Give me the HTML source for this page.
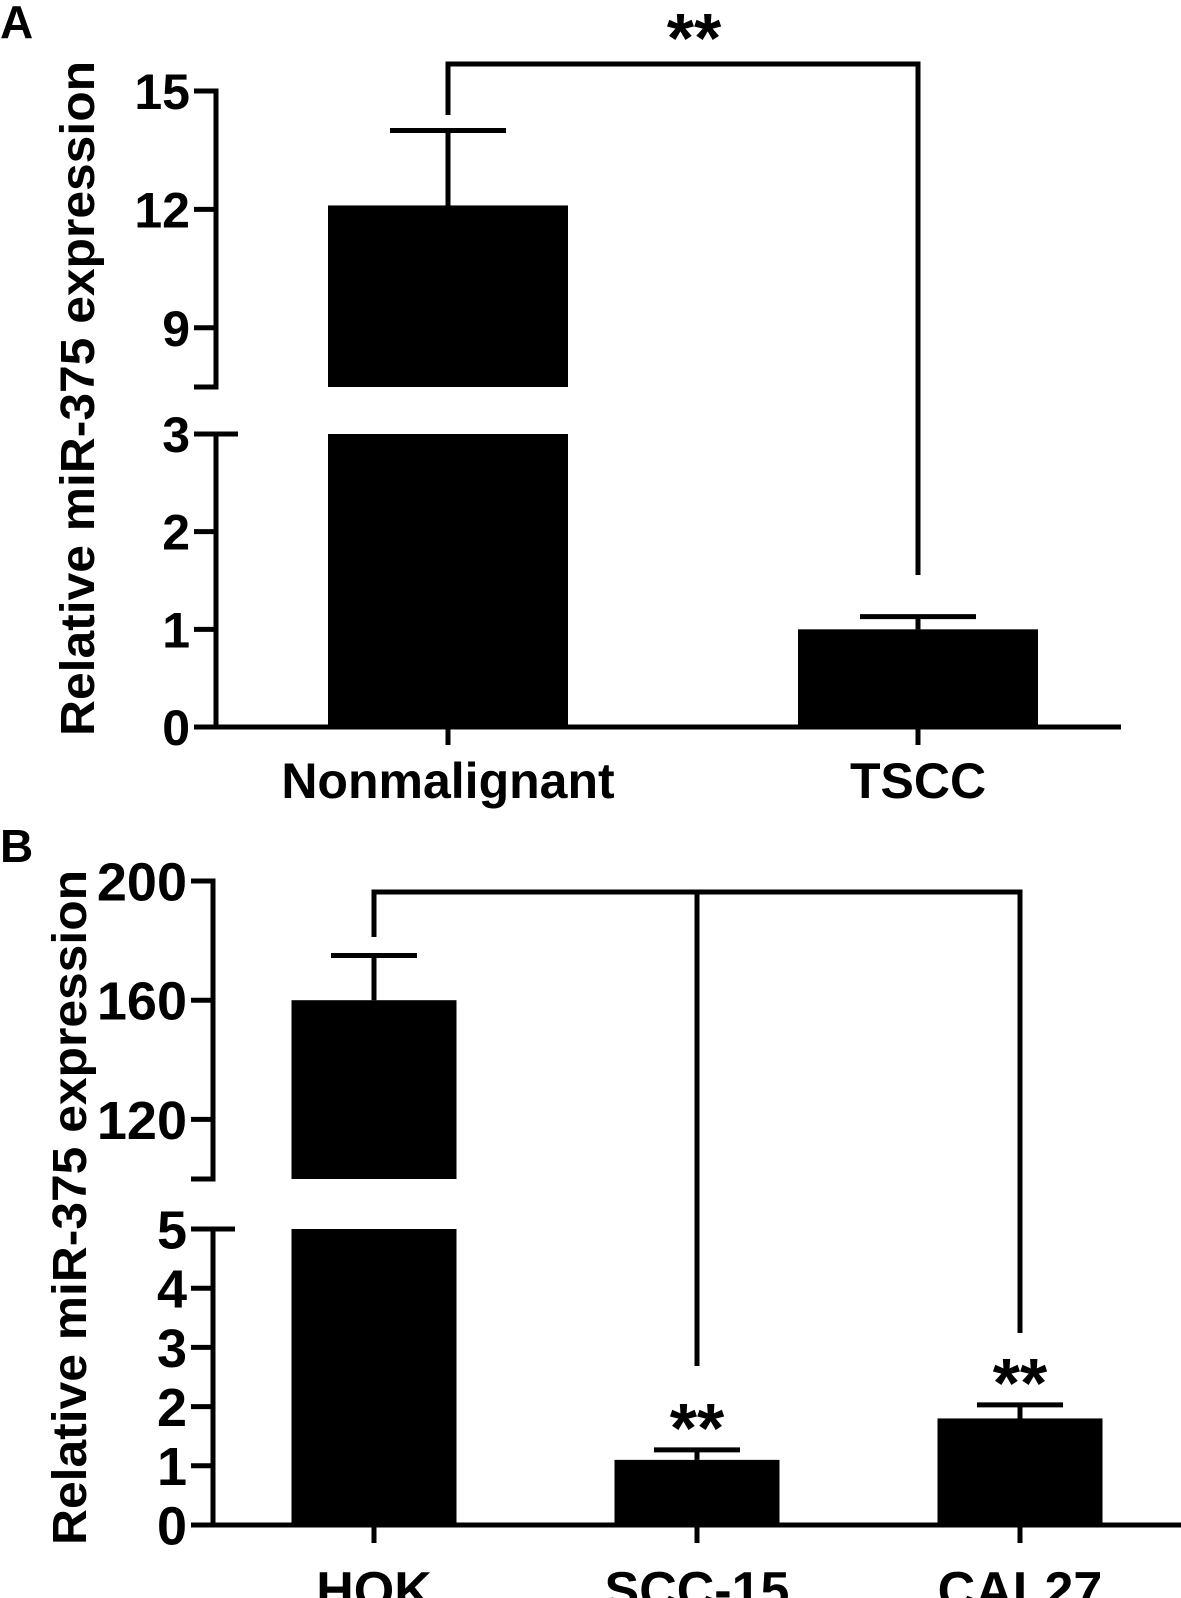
<!DOCTYPE html>
<html><head><meta charset="utf-8"><style>
html,body{margin:0;padding:0;background:#fff}
svg{display:block}
text{font-family:"Liberation Sans",Arial,sans-serif;font-weight:bold;fill:#000}
</style></head><body>
<svg id="fig" width="1181" height="1598" viewBox="0 0 1181 1598" xmlns="http://www.w3.org/2000/svg">
<text x="0" y="38" font-size="46">A</text>
<text x="0" y="862" font-size="46">B</text>
<text transform="translate(94,736) rotate(-90)" font-size="48" textLength="675" lengthAdjust="spacingAndGlyphs">Relative miR-375 expression</text>
<text transform="translate(86,1545) rotate(-90)" font-size="48" textLength="675" lengthAdjust="spacingAndGlyphs">Relative miR-375 expression</text>
<g id="ga"></g>
<g id="gb"></g>
</svg>
<script>
// Panel A data
const aCats = ["Nonmalignant","TSCC"];
const aVals = [12.1, 1.0];
const aErr = [1.9, 0.13];
const aTicksUpper = [9,12,15];
const aTicksLower = [0,1,2,3];
// Panel B data
const bCats = ["HOK","SCC-15","CAL27"];
const bVals = [160, 1.1, 1.8];
const bErr = [15, 0.17, 0.23];
const bTicksUpper = [120,160,200];
const bTicksLower = [0,1,2,3,4,5];
const bStars = ["", "**", "**"];

const NS="http://www.w3.org/2000/svg";
function mk(parent,tag,attrs){const e=document.createElementNS(NS,tag);for(const k in attrs)e.setAttribute(k,attrs[k]);parent.appendChild(e);return e;}

function drawPanel(g,cfg){
  const lw=5;
  const yL=v=>cfg.y0+(cfg.y3-cfg.y0)*(v-0)/(cfg.lowMax);
  const yU=v=>cfg.ub+(cfg.ut-cfg.ub)*(v-cfg.upMin)/(cfg.upMax-cfg.upMin);
  const yv=v=> v<=cfg.lowMax? yL(v) : (v<cfg.upMin? cfg.ub : yU(v));
  const xc=i=>cfg.xs[i];
  cfg.vals.forEach((v,i)=>{
    const x=xc(i)-cfg.bw/2;
    if(v<=cfg.lowMax){
      const b=mk(g,'rect',{x:x,y:yL(v),width:cfg.bw,height:cfg.y0-yL(v),fill:'#000'});
      
      
    } else {
      const b=mk(g,'rect',{x:x,y:yL(cfg.lowMax),width:cfg.bw,height:cfg.y0-yL(cfg.lowMax),fill:'#000'});
      
      
      const b2=mk(g,'rect',{x:x,y:yU(v),width:cfg.bw,height:cfg.ub-yU(v),fill:'#000'});
      
      
    }
    const top=yv(v+cfg.err[i]);
    const e=mk(g,'path',{d:`M${xc(i)} ${yv(v)}V${top}M${xc(i)-cfg.cap} ${top}H${xc(i)+cfg.cap}`,stroke:'#000','stroke-width':lw,fill:'none'});
    
    
    const t=mk(g,'text',{x:xc(i),y:cfg.labY,'font-size':cfg.labFs,'text-anchor':'middle'});
    t.textContent=cfg.cats[i];
    
    
    const tk=mk(g,'line',{x1:xc(i),x2:xc(i),y1:cfg.y0,y2:cfg.y0+18,stroke:'#000','stroke-width':lw});
    
    
  });
  const ax=cfg.ax;
  const ya=mk(g,'path',{d:`M${ax-22} ${cfg.ut}H${ax}V${cfg.ub}H${ax-22}M${ax+22} ${yL(cfg.lowMax)}H${ax}V${cfg.y0}`,stroke:'#000','stroke-width':lw,fill:'none'});
  
  
  const xa=mk(g,'line',{x1:ax-22,x2:cfg.xEnd,y1:cfg.y0,y2:cfg.y0,stroke:'#000','stroke-width':lw});
  
  
  cfg.tU.forEach(v=>{
    const l=mk(g,'line',{x1:ax-22,x2:ax,y1:yU(v),y2:yU(v),stroke:'#000','stroke-width':lw});
    
    
    const t=mk(g,'text',{x:ax-26,y:yU(v)+cfg.tickFs*0.36,'font-size':cfg.tickFs,'text-anchor':'end'});
    t.textContent=v;
    
    
  });
  cfg.tL.forEach(v=>{
    const l=mk(g,'line',{x1:ax-22,x2:ax,y1:yL(v),y2:yL(v),stroke:'#000','stroke-width':lw});
    
    
    const t=mk(g,'text',{x:ax-26,y:yL(v)+cfg.tickFs*0.36,'font-size':cfg.tickFs,'text-anchor':'end'});
    t.textContent=v;
    
    
  });
  return {yv,xc};
}

const A=drawPanel(document.getElementById('ga'),{cats:aCats,vals:aVals,err:aErr,tU:aTicksUpper,tL:aTicksLower,
  ax:216,y0:727,y3:434,lowMax:3,ub:387,ut:91,upMin:7.5,upMax:15,xs:[448,918],bw:240,cap:58,xEnd:1121,labY:798,labFs:50,tickFs:50});
const gA=document.getElementById('ga');
let br=mk(gA,'path',{d:`M448 115V64H918V575`,stroke:'#000','stroke-width':5,fill:'none'});


let st=mk(gA,'text',{x:694,y:62,'font-size':70,'text-anchor':'middle'});st.textContent='**';



const B=drawPanel(document.getElementById('gb'),{cats:bCats,vals:bVals,err:bErr,tU:bTicksUpper,tL:bTicksLower,
  ax:213,y0:1525,y3:1229,lowMax:5,ub:1179,ut:881,upMin:100,upMax:200,xs:[374,697,1020],bw:165,cap:43,xEnd:1181,labY:1608,labFs:52,tickFs:54});
const gB=document.getElementById('gb');
let br2=mk(gB,'path',{d:`M374 937V892H1020V1333M697 892V1366`,stroke:'#000','stroke-width':5,fill:'none'});


bStars.forEach((s,i)=>{
  if(!s)return;
  const t=mk(gB,'text',{x:B.xc(i),y:B.yv(bVals[i]+bErr[i])+2,'font-size':70,'text-anchor':'middle'});
  t.textContent=s;
  
  
});
</script>
</body></html>
